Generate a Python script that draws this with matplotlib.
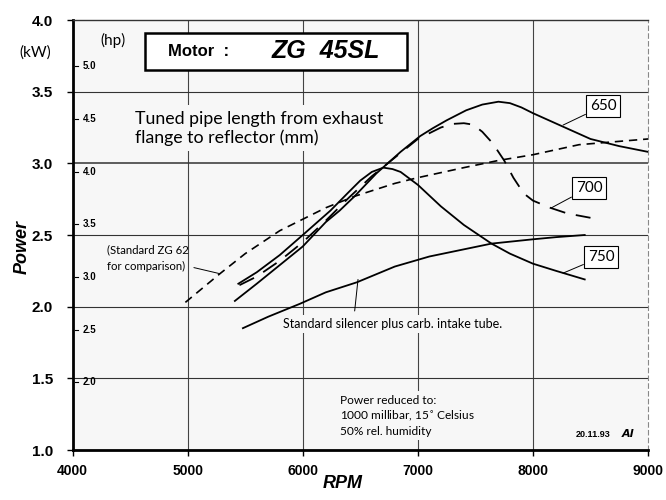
import matplotlib
matplotlib.use('Agg')
import matplotlib.pyplot as plt
import matplotlib.patches as mpatches
from matplotlib.transforms import blended_transform_factory

# ---- data ----
rpm_650 = [5410, 5600, 5800, 6000, 6200, 6320, 6450, 6640, 6850, 7020, 7130, 7250, 7420, 7560, 7700, 7800, 7900, 8000, 8250, 8500, 8750, 9000]
kw_650 = [2.04, 2.16, 2.29, 2.42, 2.59, 2.67, 2.77, 2.93, 3.08, 3.19, 3.245, 3.30, 3.37, 3.41, 3.43, 3.42, 3.39, 3.35, 3.26, 3.17, 3.12, 3.08]

rpm_700 = [5450, 5600, 5800, 6000, 6200, 6400, 6600, 6800, 7000, 7200, 7300, 7400, 7480, 7560, 7650, 7750, 7830, 7920, 8000, 8150, 8300, 8500]
kw_700 = [2.15, 2.21, 2.32, 2.45, 2.60, 2.76, 2.91, 3.04, 3.17, 3.25, 3.275, 3.28, 3.27, 3.22, 3.14, 3.02, 2.90, 2.79, 2.74, 2.69, 2.65, 2.62]

rpm_750 = [5440, 5600, 5800, 6000, 6240, 6400, 6500, 6600, 6700, 6780, 6850, 7000, 7200, 7400, 7640, 7800, 8000, 8200, 8450]
kw_750 = [2.16, 2.24, 2.36, 2.50, 2.67, 2.80, 2.88, 2.94, 2.97, 2.96, 2.94, 2.85, 2.70, 2.57, 2.44, 2.37, 2.30, 2.25, 2.19]

rpm_zg62 = [4980, 5280, 5500, 5800, 6000, 6200, 6450, 6800, 7000, 7400, 7700, 8000, 8400, 8700, 9000]
kw_zg62 = [2.03, 2.23, 2.37, 2.53, 2.61, 2.69, 2.77, 2.86, 2.90, 2.97, 3.02, 3.06, 3.13, 3.15, 3.17]

rpm_std = [5480, 5700, 5975, 6200, 6470, 6800, 7100, 7400, 7640, 8000, 8200, 8450]
kw_std = [1.85, 1.93, 2.02, 2.10, 2.17, 2.28, 2.35, 2.40, 2.44, 2.47, 2.485, 2.50]

x_ticks = [4000, 5000, 6000, 7000, 8000, 9000]
y_ticks = [1.0, 1.5, 2.0, 2.5, 3.0, 3.5, 4.0]
hp_ticks = [2.0, 2.5, 3.0, 3.5, 4.0, 4.5, 5.0]
KW_PER_HP = 0.7355

BG = '#f7f7f7'
NARROW = ['Liberation Sans Narrow', 'Liberation Sans', 'DejaVu Sans']
SANS = ['Lato', 'DejaVu Sans']
HELV = ['Liberation Sans', 'DejaVu Sans']

fig = plt.figure(figsize=(6.66, 5.0), dpi=100)
ax = fig.add_axes([0.109, 0.10, 0.864, 0.86])
ax.set_facecolor(BG)
ax.set_xlim(4000, 9000)
ax.set_ylim(1.0, 4.0)

# grid
for v in x_ticks[1:-1]:
    ax.axvline(v, color='#444444', lw=0.8, zorder=1)
for h in y_ticks[1:-1]:
    ax.axhline(h, color='#333333', lw=1.1 if h == 3.0 else 0.8, zorder=1)

# spines
ax.spines['left'].set_linewidth(2.0)
ax.spines['bottom'].set_linewidth(2.0)
ax.spines['top'].set_linewidth(1.0)
ax.spines['top'].set_color('#333333')
ax.spines['right'].set_linewidth(0.8)
ax.spines['right'].set_color('#888888')
ax.spines['right'].set_linestyle((0, (4, 3)))

ax.set_xticks(x_ticks)
ax.set_yticks(y_ticks)
ax.set_xticklabels([str(t) for t in x_ticks], fontfamily=NARROW, fontweight='bold', fontsize=10)
ax.set_yticklabels(['%.1f' % t for t in y_ticks], fontfamily=NARROW, fontweight='bold', fontsize=11)
ax.tick_params(axis='both', direction='out', length=4, width=1)
ax.tick_params(axis='x', pad=6)
ax.tick_params(axis='y', pad=10)

# curves
ax.plot(rpm_650, kw_650, color='black', lw=1.3, zorder=3)
ax.plot(rpm_700, kw_700, color='black', lw=1.3, ls=(0, (9, 6)), zorder=3)
ax.plot(rpm_750, kw_750, color='black', lw=1.3, zorder=3)
ax.plot(rpm_zg62, kw_zg62, color='black', lw=1.2, ls=(0, (5, 3.5)), zorder=3)
ax.plot(rpm_std, kw_std, color='black', lw=1.3, zorder=3)

# hp secondary scale drawn inside the axis
tr = blended_transform_factory(ax.transAxes, ax.transData)
for hp in hp_ticks:
    y = hp * KW_PER_HP
    ax.plot([0.004, 0.010], [y, y], color='black', lw=0.8, transform=tr, zorder=4)
    ax.text(0.017, y, '%.1f' % hp, transform=tr, fontfamily=NARROW, fontweight='bold',
            fontsize=7, va='center', ha='left', zorder=4)

# label boxes on curves
box = dict(boxstyle='square,pad=0.25', fc='white', ec='black', lw=0.8)
arrow = dict(arrowstyle='-', color='black', lw=0.7, shrinkA=0, shrinkB=0)
ax.annotate('650', xy=(8262, 3.267), xytext=(8609, 3.40), fontfamily=SANS, fontsize=11,
            ha='center', va='center', bbox=box, arrowprops=arrow, zorder=5)
ax.annotate('700', xy=(8157, 2.688), xytext=(8487, 2.83), fontfamily=SANS, fontsize=11,
            ha='center', va='center', bbox=box, arrowprops=arrow, zorder=5)
ax.annotate('750', xy=(8262, 2.234), xytext=(8591, 2.346), fontfamily=SANS, fontsize=11,
            ha='center', va='center', bbox=box, arrowprops=arrow, zorder=5)

ax.annotate('(Standard ZG 62\nfor comparison)', xy=(5280, 2.23), xytext=(4295, 2.34),
            fontfamily=SANS, fontsize=8.2, ha='left', va='center', linespacing=1.65,
            arrowprops=dict(arrowstyle='-', color='black', lw=0.7, shrinkA=2, shrinkB=0,
                            relpos=(1.0, 0.2)), zorder=5)

ax.annotate('', xy=(6480, 2.19), xytext=(6451, 1.97),
            arrowprops=dict(arrowstyle='-', color='black', lw=0.7, shrinkA=0, shrinkB=0), zorder=5)
ax.text(5830, 1.88, 'Standard silencer plus carb. intake tube.', fontfamily=SANS, fontsize=9.0,
        ha='left', va='center', zorder=5,
        bbox=dict(boxstyle='square,pad=0.25', fc=BG, ec='none'))

ax.text(0.108, 0.748, 'Tuned pipe length from exhaust\nflange to reflector (mm)',
        transform=ax.transAxes, fontfamily=SANS, fontsize=12.8, ha='left', va='center',
        linespacing=1.2, zorder=5, bbox=dict(boxstyle='square,pad=0.3', fc=BG, ec='none'))

ax.text(0.465, 0.08, 'Power reduced to:\n1000 millibar, 15$^{\\circ}$ Celsius\n50% rel. humidity',
        transform=ax.transAxes, fontfamily=SANS, fontsize=8.6, ha='left', va='center',
        linespacing=1.3, zorder=5, bbox=dict(boxstyle='square,pad=0.3', fc=BG, ec='none'))

ax.text(0.875, 0.035, '20.11.93', transform=ax.transAxes, fontfamily=NARROW,
        fontweight='bold', fontsize=6.5, ha='left', va='center', zorder=5)
ax.text(0.955, 0.037, 'Al', transform=ax.transAxes, fontfamily=['DejaVu Sans'],
        fontweight='bold', fontstyle='italic', fontsize=8, ha='left', va='center', zorder=5)

# title box
ax.add_patch(mpatches.Rectangle((0.1257, 0.8837), 0.4553, 0.0861, transform=ax.transAxes,
                                fc='white', ec='black', lw=1.8, zorder=6))
ax.text(0.165, 0.926, 'Motor  :', transform=ax.transAxes, fontfamily=HELV,
        fontweight='bold', fontsize=12, ha='left', va='center', zorder=7)
ax.text(0.346, 0.928, 'ZG  45SL', transform=ax.transAxes, fontfamily=HELV,
        fontweight='bold', fontstyle='italic', fontsize=18, ha='left', va='center', zorder=7)

# unit labels and axis titles
fig.text(0.053, 0.894, '(kW)', fontfamily=SANS, fontsize=11, ha='center', va='center')
fig.text(0.170, 0.920, '(hp)', fontfamily=SANS, fontsize=11, ha='center', va='center')
fig.text(0.033, 0.506, 'Power', fontfamily=HELV, fontweight='bold',
         fontstyle='italic', fontsize=13, rotation=90, ha='center', va='center')
fig.text(0.515, 0.032, 'RPM', fontfamily=HELV, fontweight='bold',
         fontstyle='italic', fontsize=13, ha='center', va='center')

fig.savefig('out.png', dpi=100, facecolor='white')
